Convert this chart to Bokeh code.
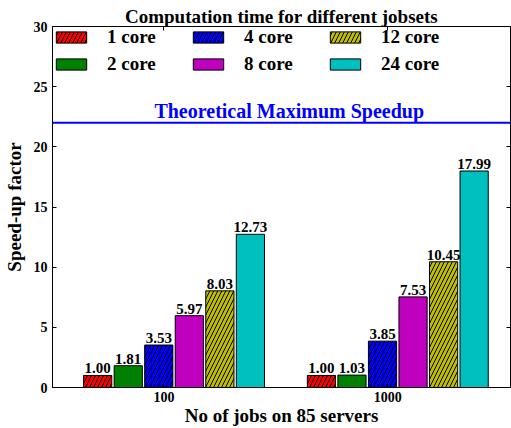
from bokeh.plotting import figure
from bokeh.models import (Range1d, FixedTicker, LinearAxis, Legend,
                          LegendItem, Span, ColumnDataSource, CustomJSTickFormatter)
from bokeh.core.properties import value
from bokeh.embed import file_html
from bokeh.resources import INLINE

# ---- data ----
groups = ["100", "1000"]
series = ["1 core", "2 core", "4 core", "8 core", "12 core", "24 core"]
speedup_100 = [1.00, 1.81, 3.53, 5.97, 8.03, 12.73]
speedup_1000 = [1.00, 1.03, 3.85, 7.53, 10.45, 17.99]
theoretical_max = 22
y_ticks = [0, 5, 10, 15, 20, 25, 30]

# ---- style ----
colors = ["#ff0000", "#008000", "#0000ff", "#bf00bf", "#bfbf00", "#00bfbf"]
hatches = ["/", None, "/", None, "/", None]
FONT = "Liberation Serif"

group_pos = [0, 1]
bar_pitch = 0.1365
bar_width = 0.126
first_offset = -0.296

p = figure(width=511, height=428,
           x_range=Range1d(-0.498, 1.549), y_range=Range1d(0, 30),
           output_backend="svg", toolbar_location=None,
           min_border_left=50, min_border_right=1, min_border_top=26, min_border_bottom=41)
p.background_fill_color = "white"
p.border_fill_color = "white"
p.outline_line_color = "black"
p.outline_line_width = 1
p.xgrid.grid_line_color = None
p.ygrid.grid_line_color = None

renderers = []
for i, name in enumerate(series):
    tops = [speedup_100[i], speedup_1000[i]]
    xs = [g + first_offset + i * bar_pitch for g in group_pos]
    src = ColumnDataSource(dict(x=xs, top=tops, label=[f"{t:.2f}" for t in tops]))
    kw = {}
    if hatches[i]:
        kw = dict(hatch_pattern=hatches[i], hatch_color="black", hatch_scale=8, hatch_weight=1)
    r = p.vbar(x="x", top="top", width=bar_width, bottom=0, source=src,
               fill_color=colors[i], line_color="black", line_width=1, **kw)
    p.text(x="x", y="top", text="label", source=src, text_font=value(FONT),
           text_font_style="bold", text_font_size="15px", text_color="black",
           text_align="center", text_baseline="bottom", y_offset=-2)
    renderers.append(r)

# theoretical maximum line
p.add_layout(Span(location=theoretical_max, dimension="width", line_color="#0000ff", line_width=2))
label_x = 0.56
p.text(x=[label_x], y=[theoretical_max], text=["Theoretical Maximum Speedup"],
       text_font=value(FONT), text_font_style="bold", text_font_size="20px",
       text_color="#0000ff", text_align="center", text_baseline="bottom", y_offset=-1)

# legend
legend = Legend(items=[LegendItem(label=s, renderers=[r]) for s, r in zip(series, renderers)],
                ncols=3, location="top_left", margin=0, padding=8, spacing=5,
                glyph_width=38, glyph_height=14, label_standoff=17, label_width=77,
                label_height=14, label_text_font=FONT, label_text_font_style="bold",
                label_text_font_size="19px", label_text_color="black",
                border_line_color=None, background_fill_alpha=0)
p.add_layout(legend)

# title
p.title.text = "Computation time for different jobsets"
p.title.align = "center"
p.title.text_font = FONT
p.title.text_font_style = "bold"
p.title.text_font_size = "19px"
p.title.text_color = "black"
p.title.standoff = 0
p.title.offset = 0

# axes
for ax in (p.xaxis[0], p.yaxis[0]):
    ax.major_label_text_font = FONT
    ax.major_label_text_font_style = "bold"
    ax.major_label_text_font_size = "14px"
    ax.major_label_text_color = "black"
    ax.axis_label_text_font = FONT
    ax.axis_label_text_font_style = "bold"
    ax.axis_label_text_font_size = "19px"
    ax.axis_label_text_color = "black"
    ax.major_tick_in = 4
    ax.major_tick_out = 0
    ax.minor_tick_line_color = None
    ax.axis_line_color = "black"
    ax.major_tick_line_color = "black"

p.xaxis.ticker = FixedTicker(ticks=group_pos)
p.xaxis.major_label_overrides = {g: lab for g, lab in zip(group_pos, groups)}
p.xaxis.axis_label = "No of jobs on 85 servers"
p.xaxis.major_label_standoff = 4
p.xaxis.axis_label_standoff = 0

p.yaxis.ticker = FixedTicker(ticks=y_ticks)
p.yaxis.axis_label = "Speed-up factor"
p.yaxis.major_label_standoff = 5
p.yaxis.axis_label_standoff = 6

blank = CustomJSTickFormatter(code="return ''")
top_ax = LinearAxis(ticker=FixedTicker(ticks=group_pos), formatter=blank,
                    major_tick_in=4, major_tick_out=0, minor_tick_line_color=None,
                    major_label_standoff=0, axis_line_color="black", major_tick_line_color="black")
p.add_layout(top_ax, "above")
right_ax = LinearAxis(ticker=FixedTicker(ticks=y_ticks), formatter=blank,
                      major_tick_in=4, major_tick_out=0, minor_tick_line_color=None,
                      major_label_standoff=0, axis_line_color="black", major_tick_line_color="black")
p.add_layout(right_ax, "right")

open("out.html", "w").write(file_html(p, INLINE))
